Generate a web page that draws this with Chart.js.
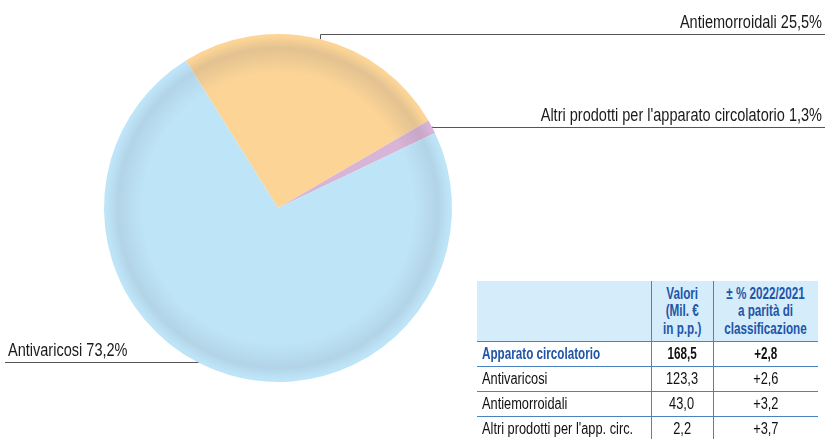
<!DOCTYPE html>
<html>
<head>
<meta charset="utf-8">
<script src="https://cdn.jsdelivr.net/npm/chart.js@4/dist/chart.umd.min.js"></script>
<style>
  html, body { margin: 0; padding: 0; background: #fff; }
  #wrap { position: relative; width: 825px; height: 439px; overflow: hidden; }
  #pie { position: absolute; left: 0; top: 0; }
  #tab {
    position: absolute; left: 477px; top: 281px; width: 341px;
    border-collapse: collapse; table-layout: fixed;
    font-family: "Liberation Sans", Arial, sans-serif;
    font-size: 16px; color: #111; white-space: nowrap;
  }
  #tab th, #tab td { padding: 0; border-bottom: 1px solid #4a82c4; overflow: visible; }
  #tab th + th, #tab td + td { border-left: 1px solid #4a82c4; }
  #tab thead th {
    background: #d5ecfa; color: #1f55a8; font-weight: bold;
    height: 60px; line-height: 17.5px; text-align: center; vertical-align: middle;
  }
  #tab tbody td { height: 24px; line-height: 24px; text-align: center; }
  #tab tbody td:first-child { text-align: left; padding-left: 5px; }
  #tab tbody tr.tot td { font-weight: bold; }
  #tab tbody tr.tot td:first-child { color: #1f55a8; }
  /* condensed look: squeeze the glyphs horizontally */
  .n { display: inline-block; margin: 0 -80px; transform: scaleX(0.80); }
  .b { display: inline-block; margin: 0 -80px; transform: scaleX(0.73); }
  td:first-child .n, td:first-child .b { margin: 0; transform-origin: left center; }
</style>
</head>
<body>
<div id="wrap">
  <canvas id="pie" width="825" height="439"></canvas>
  <table id="tab">
    <colgroup><col style="width:174px"><col style="width:62px"><col style="width:105px"></colgroup>
    <thead><tr id="head"></tr></thead>
    <tbody id="body"></tbody>
  </table>
</div>
<script>
// pie slices (share of segment, %)
const categories = ["Antiemorroidali", "Altri prodotti per l'apparato circolatorio", "Antivaricosi"];
const shares = [25.5, 1.3, 73.2];

// table
const headers = ["", "Valori<br>(Mil. €<br>in p.p.)", "± % 2022/2021<br>a parità di<br>classificazione"];
const rowNames = ["Apparato circolatorio", "Antivaricosi", "Antiemorroidali", "Altri prodotti per l'app. circ."];
const rowValues = ["168,5", "123,3", "43,0", "2,2"];
const rowChanges = ["+2,8", "+2,6", "+3,2", "+3,7"];

const fmt = v => v.toFixed(1).replace(".", ",") + "%";

document.getElementById("head").innerHTML =
  headers.map(h => `<th>${h ? `<span class="b">${h}</span>` : ""}</th>`).join("");
document.getElementById("body").innerHTML = rowNames.map((n, i) => {
  const cls = i === 0 ? "b" : "n";
  return `<tr class="${i === 0 ? "tot" : ""}">` +
    [n, rowValues[i], rowChanges[i]].map(t => `<td><span class="${cls}">${t}</span></td>`).join("") +
    "</tr>";
}).join("");

// base colour, darker rim band
const tones = [
  ["#fbd496", "#e3c291"],
  ["#d8b4d6", "#c7a6c8"],
  ["#bee4f8", "#b3d4e7"]
];

function fill(ctx) {
  const area = ctx.chart.chartArea;
  if (!area) return tones[ctx.dataIndex][0];
  const cx = (area.left + area.right) / 2, cy = (area.top + area.bottom) / 2;
  const r = Math.min(area.right - area.left, area.bottom - area.top) / 2;
  const [base, band] = tones[ctx.dataIndex];
  const g = ctx.chart.ctx.createRadialGradient(cx, cy, 0, cx, cy, r);
  g.addColorStop(0, base);
  g.addColorStop(0.78, base);
  g.addColorStop(0.92, band);
  g.addColorStop(0.985, base);
  g.addColorStop(1, base);
  return g;
}

// leader lines: right side labels run to the page edge, left one under the text
const leaders = [
  { side: "right", lift: 5 },
  { side: "right", lift: 0 },
  { side: "left", lift: 13 }
];

const labelFont = '17.5px "Liberation Sans", Arial, sans-serif';
const squeeze = 0.83;

const leaderPlugin = {
  id: "leaders",
  beforeDatasetsDraw(chart) {
    draw(chart, "left");
  },
  afterDatasetsDraw(chart) {
    draw(chart, "right");
  }
};

function label(c, text, x, y, align) {
  c.save();
  c.translate(x, y);
  c.scale(squeeze, 1);
  c.textAlign = align;
  c.fillText(text, 0, 0);
  c.restore();
}

function draw(chart, side) {
  const c = chart.ctx;
  const arcs = chart.getDatasetMeta(0).data;
  c.save();
  c.strokeStyle = "#555";
  c.lineWidth = 1;
  c.fillStyle = "#1a1a1a";
  c.font = labelFont;
  arcs.forEach((arc, i) => {
    const cfg = leaders[i];
    if (cfg.side !== side) return;
    const a = (arc.startAngle + arc.endAngle) / 2;
    const px = arc.x + arc.outerRadius * Math.cos(a);
    const py = arc.y + arc.outerRadius * Math.sin(a);
    const ly = Math.round(py - cfg.lift) + 0.5;
    const text = categories[i] + " " + fmt(shares[i]);
    c.beginPath();
    if (side === "right") {
      c.moveTo(Math.round(px) + 0.5, py);
      c.lineTo(Math.round(px) + 0.5, ly);
      c.lineTo(chart.width, ly);
      c.stroke();
      label(c, text, chart.width - 3, ly - 7, "right");
    } else {
      c.moveTo(5, ly);
      c.lineTo(arc.x, ly);
      c.stroke();
      label(c, text, 8, ly - 7, "left");
    }
  });
  c.restore();
}

new Chart(document.getElementById("pie"), {
  type: "pie",
  data: {
    labels: categories,
    datasets: [{
      data: shares,
      backgroundColor: fill,
      borderWidth: 0
    }]
  },
  options: {
    responsive: false,
    animation: false,
    rotation: -32,
    layout: { padding: { left: 104, right: 373, top: 34, bottom: 57 } },
    plugins: { legend: { display: false }, tooltip: { enabled: false } }
  },
  plugins: [leaderPlugin]
});
</script>
</body>
</html>
